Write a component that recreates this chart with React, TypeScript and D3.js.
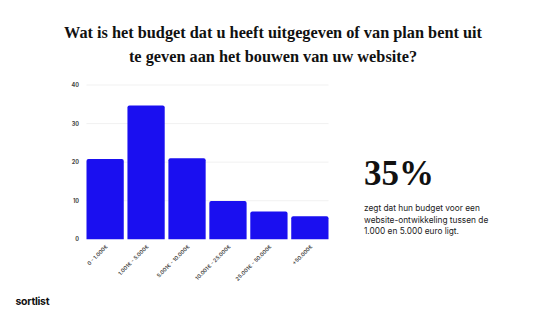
import React, { useEffect, useRef } from "react";
import * as d3 from "d3";

const categories = [
  "0 - 1.000€",
  "1.001€ - 5.000€",
  "5.001€ - 10.000€",
  "10.001€ - 25.000€",
  "25.001€ - 50.000€",
  "+50.000€",
];
const values = [20.8, 34.7, 21, 9.9, 7.2, 6];
const yTicks = [0, 10, 20, 30, 40];
const titleLines = [
  "Wat is het budget dat u heeft uitgegeven of van plan bent uit",
  "te geven aan het bouwen van uw website?",
];
const bigStat = "35%";
const statLines = [
  "zegt dat hun budget voor een",
  "website-ontwikkeling tussen de",
  "1.000 en 5.000 euro ligt.",
];

const App = () => {
  const ref = useRef<SVGSVGElement>(null);

  useEffect(() => {
    const svg = d3.select(ref.current);
    svg.selectAll("*").remove();

    const x = d3
      .scaleBand()
      .domain(categories)
      .range([86.5, 328.5])
      .paddingInner(0.09)
      .paddingOuter(0);
    const y = d3.scaleLinear().domain([0, 40]).range([239.3, 85]);

    // title
    svg
      .append("g")
      .selectAll("text")
      .data(titleLines)
      .join("text")
      .attr("x", 273)
      .attr("y", (d, i) => 38 + i * 23.5)
      .attr("text-anchor", "middle")
      .attr("font-family", "'Liberation Serif', serif")
      .attr("font-weight", "bold")
      .attr("font-size", 16.3)
      .attr("fill", "#111")
      .text((d) => d);

    // grid
    svg
      .append("g")
      .selectAll("line")
      .data(yTicks.slice(1))
      .join("line")
      .attr("x1", 86.5)
      .attr("x2", 328.5)
      .attr("y1", (d) => y(d))
      .attr("y2", (d) => y(d))
      .attr("stroke", "#eeeeee")
      .attr("stroke-width", 0.8);

    // y labels
    svg
      .append("g")
      .selectAll("text")
      .data(yTicks)
      .join("text")
      .attr("x", 79)
      .attr("y", (d) => y(d) + 2)
      .attr("text-anchor", "end")
      .attr("font-family", "Inter, sans-serif")
      .attr("font-weight", "bold")
      .attr("font-size", 5.5)
      .attr("fill", "#444")
      .text((d) => d);

    // bars with rounded tops
    const r = 2;
    svg
      .append("g")
      .selectAll("path")
      .data(values)
      .join("path")
      .attr("d", (d, i) => {
        const x0 = x(categories[i])!;
        const w = x.bandwidth();
        const y0 = y(d);
        const yb = y(0);
        const p = d3.path();
        p.moveTo(x0, yb);
        p.lineTo(x0, y0 + r);
        p.quadraticCurveTo(x0, y0, x0 + r, y0);
        p.lineTo(x0 + w - r, y0);
        p.quadraticCurveTo(x0 + w, y0, x0 + w, y0 + r);
        p.lineTo(x0 + w, yb);
        p.closePath();
        return p.toString();
      })
      .attr("fill", "#1a0ff0");

    // x labels
    svg
      .append("g")
      .selectAll("text")
      .data(categories)
      .join("text")
      .attr("transform", (d) => {
        const cx = x(d)! + x.bandwidth() / 2 + 3;
        return `translate(${cx},${247}) rotate(-45)`;
      })
      .attr("text-anchor", "end")
      .attr("font-family", "Inter, sans-serif")
      .attr("font-weight", 600)
      .attr("font-size", 5.3)
      .attr("fill", "#444")
      .text((d) => d);

    // big stat
    svg
      .append("text")
      .attr("x", 364)
      .attr("y", 185)
      .attr("font-family", "'Liberation Serif', serif")
      .attr("font-weight", "bold")
      .attr("font-size", 35)
      .attr("fill", "#111")
      .text(bigStat);

    svg
      .append("g")
      .selectAll("text")
      .data(statLines)
      .join("text")
      .attr("x", 364)
      .attr("y", (d, i) => 211 + i * 11.7)
      .attr("font-family", "Inter, sans-serif")
      .attr("font-size", 8.3)
      .attr("fill", "#222")
      .text((d) => d);

    // logo
    svg
      .append("text")
      .attr("x", 15.5)
      .attr("y", 305)
      .attr("font-family", "Inter, sans-serif")
      .attr("font-weight", "bold")
      .attr("font-size", 10.5)
      .attr("letter-spacing", -0.3)
      .attr("fill", "#111")
      .text("sortlist");
  }, []);

  return (
    <svg
      ref={ref}
      width={540}
      height={315}
      style={{ position: "absolute", left: 0, top: 0, background: "#fff" }}
    ></svg>
  );
};

export default App;
